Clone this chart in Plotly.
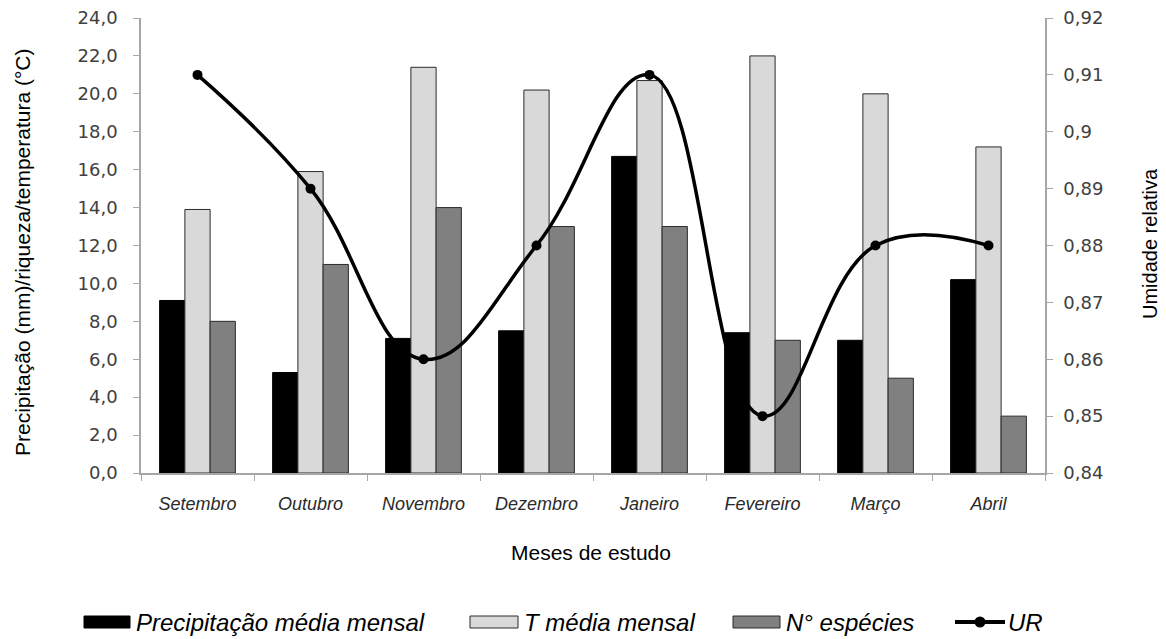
import plotly.graph_objects as go

meses = ["Setembro", "Outubro", "Novembro", "Dezembro", "Janeiro", "Fevereiro", "Março", "Abril"]
precipitacao = [9.1, 5.3, 7.1, 7.5, 16.7, 7.4, 7.0, 10.2]
temperatura = [13.9, 15.9, 21.4, 20.2, 20.7, 22.0, 20.0, 17.2]
especies = [8, 11, 14, 13, 13, 7, 5, 3]
umidade = [0.91, 0.89, 0.86, 0.88, 0.91, 0.85, 0.88, 0.88]

nomes = ["Precipitação média mensal", "T média mensal", "N° espécies", "UR"]
cores = ["#000000", "#d9d9d9", "#808080", "#000000"]
contornos = ["#000000", "#2b2b2b", "#2b2b2b", "#000000"]

W, H = 1166, 639
L, R, T, B = 141, 121, 18, 166
PW, PH = W - L - R, H - T - B


def px_x(p):
    return (p - L) / PW


def px_y(p):
    return (H - B - p) / PH


fig = go.Figure()
for nome, vals, cor, contorno in zip(nomes[:3], [precipitacao, temperatura, especies], cores, contornos):
    fig.add_trace(go.Bar(x=meses, y=vals, name=nome,
                         marker=dict(color=cor, line=dict(color=contorno, width=1))))
fig.add_trace(go.Scatter(x=meses, y=umidade, name=nomes[3], yaxis="y2",
                         mode="lines+markers",
                         line=dict(color="#000000", width=3.5, shape="spline", smoothing=1.2),
                         marker=dict(color="#000000", size=10)))

tick_font = dict(family="DejaVu Sans, sans-serif", size=18, color="#404040")
arial = "Liberation Sans, Arial, sans-serif"

# legend drawn below the plot: swatches and labels
shapes, annotations = [], []
leg_y = 622
caixas = [(84, 130), (470, 518), (733, 780)]
for (x0, x1), cor, contorno, nome in zip(caixas, cores, contornos, nomes):
    shapes.append(dict(type="rect", xref="paper", yref="paper",
                       x0=px_x(x0), x1=px_x(x1), y0=px_y(leg_y + 6), y1=px_y(leg_y - 6),
                       fillcolor=cor, line=dict(color=contorno, width=1)))
    annotations.append(dict(text=nome, xref="paper", yref="paper", x=px_x(x1 + 4), y=px_y(leg_y),
                            xanchor="left", yanchor="middle", showarrow=False,
                            font=dict(family=arial, size=24, color="#000000", style="italic")))
shapes.append(dict(type="line", xref="paper", yref="paper",
                   x0=px_x(955), x1=px_x(1005), y0=px_y(leg_y), y1=px_y(leg_y),
                   line=dict(color="#000000", width=4)))
shapes.append(dict(type="circle", xref="paper", yref="paper", xsizemode="pixel", ysizemode="pixel",
                   xanchor=px_x(980), yanchor=px_y(leg_y), x0=-5.5, x1=5.5, y0=-5.5, y1=5.5,
                   fillcolor="#000000", line=dict(color="#000000", width=0)))
annotations.append(dict(text=nomes[3], xref="paper", yref="paper", x=px_x(1006), y=px_y(leg_y),
                        xanchor="left", yanchor="middle", showarrow=False,
                        font=dict(family=arial, size=24, color="#000000", style="italic")))

# axis titles
annotations += [
    dict(text="Meses de estudo", xref="paper", yref="paper", x=px_x(591), y=px_y(552),
         xanchor="center", yanchor="middle", showarrow=False,
         font=dict(family=arial, size=21, color="#000000")),
    dict(text="Precipitação (mm)/riqueza/temperatura (°C)", xref="paper", yref="paper",
         x=px_x(23), y=px_y(252), textangle=-90, xanchor="center", yanchor="middle",
         showarrow=False, font=dict(family=arial, size=21, color="#000000")),
    dict(text="Umidade relativa", xref="paper", yref="paper",
         x=px_x(1150), y=px_y(244), textangle=-90, xanchor="center", yanchor="middle",
         showarrow=False, font=dict(family=arial, size=20, color="#000000")),
]

fig.update_layout(
    width=W, height=H,
    margin=dict(l=L, r=R, t=T, b=B, autoexpand=False),
    paper_bgcolor="white", plot_bgcolor="white",
    separators=",.",
    barmode="group", bargap=0.33, bargroupgap=0.0,
    showlegend=False,
    shapes=shapes, annotations=annotations,
    xaxis=dict(
        type="category", automargin=False,
        showline=True, linecolor="#a6a6a6", linewidth=1.5,
        ticks="outside", tickson="boundaries", ticklen=6, tickcolor="#a6a6a6",
        tickfont=dict(family=arial, size=18, color="#2a2a2a", style="italic"),
        ticklabelstandoff=14,
        showgrid=False, zeroline=False,
    ),
    yaxis=dict(
        range=[0, 24], dtick=2, tickformat=".1f", automargin=False,
        showline=True, linecolor="#a6a6a6", linewidth=1.5,
        ticks="outside", ticklen=6, tickcolor="#a6a6a6",
        tickfont=tick_font, ticklabelstandoff=12,
        showgrid=False, zeroline=False,
    ),
    yaxis2=dict(
        range=[0.84, 0.92], dtick=0.01, overlaying="y", side="right", automargin=False,
        showline=True, linecolor="#a6a6a6", linewidth=1.5,
        ticks="outside", ticklen=6, tickcolor="#a6a6a6",
        tickfont=tick_font, ticklabelstandoff=7,
        showgrid=False, zeroline=False,
    ),
)

fig.write_html("out.html")
